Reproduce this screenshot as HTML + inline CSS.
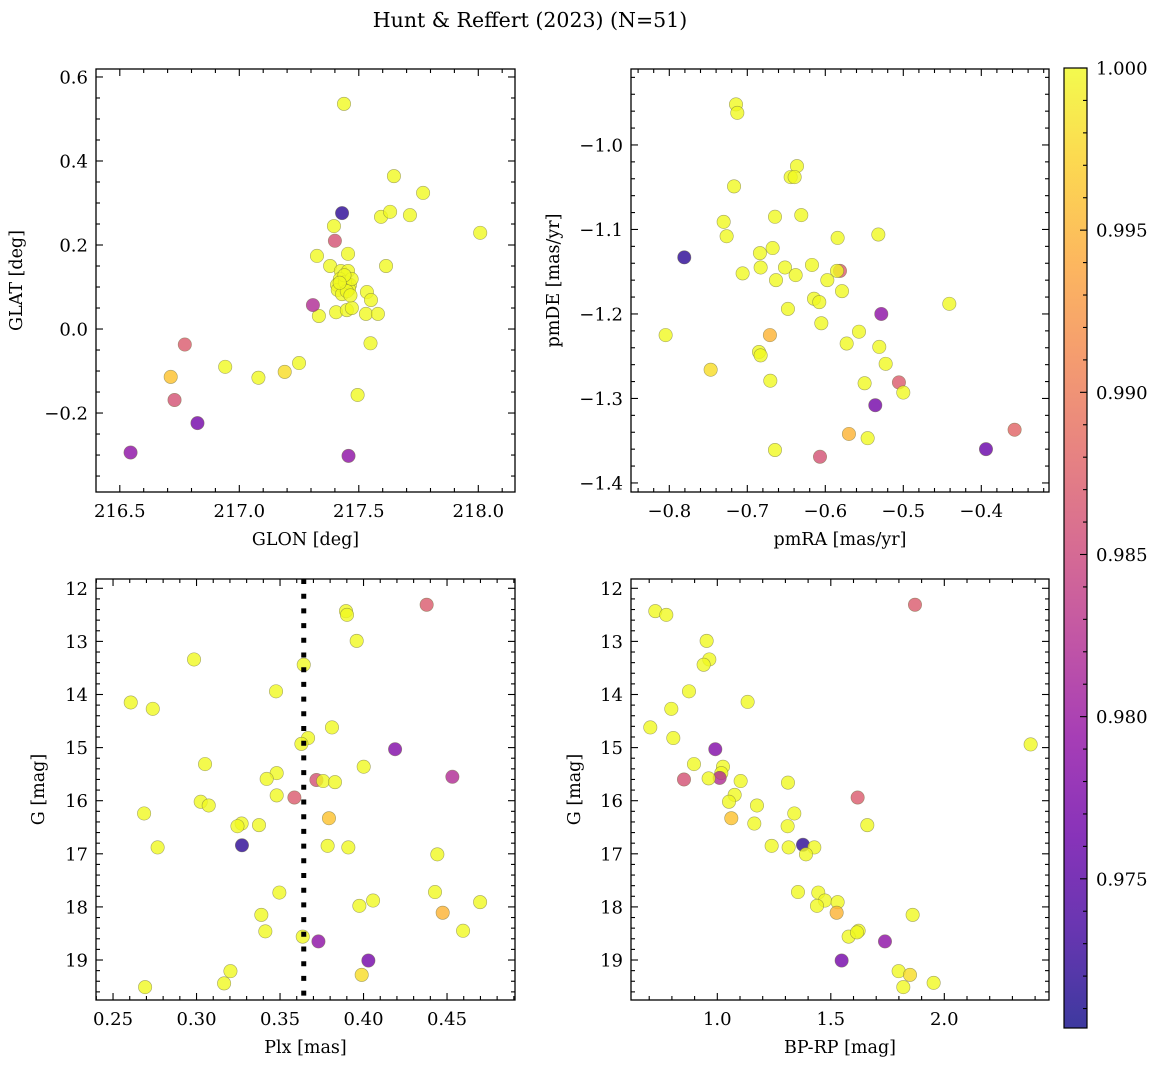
<!DOCTYPE html>
<html><head><meta charset="utf-8">
<style>
html,body{margin:0;padding:0;background:#fff;}
svg{display:block;font-family:"DejaVu Serif","Liberation Serif",serif;}
</style></head>
<body>
<svg id="fig" width="1161" height="1068" viewBox="0 0 1161 1068" xmlns="http://www.w3.org/2000/svg">
<rect width="1161" height="1068" fill="#fff"/>
<text x="530" y="27" font-size="20.5" text-anchor="middle">Hunt &amp; Reffert (2023) (N=51)</text>
<defs>
<linearGradient id="plasmaGrad" x1="0" y1="1" x2="0" y2="0">
<stop offset="0" stop-color="#0d0887"/><stop offset="0.1" stop-color="#41049d"/><stop offset="0.2" stop-color="#6a00a8"/><stop offset="0.3" stop-color="#8f0da4"/><stop offset="0.4" stop-color="#b12a90"/><stop offset="0.5" stop-color="#cc4778"/><stop offset="0.6" stop-color="#e16462"/><stop offset="0.7" stop-color="#f2844b"/><stop offset="0.8" stop-color="#fca636"/><stop offset="0.9" stop-color="#fcce25"/><stop offset="1" stop-color="#f0f921"/>
</linearGradient>
</defs>
<g id="colorbar">
<rect x="1064" y="68" width="23" height="960" fill="url(#plasmaGrad)" fill-opacity="0.8" stroke="#000" stroke-width="1.2"/>
</g>
</svg>
<script>
// ---- Panel 1: GLON / GLAT ----
const glon = [217.438,217.430,217.400,217.396,217.647,217.769,217.593,217.631,218.008,217.714,217.614,217.455,217.325,217.380,217.425,217.455,217.421,217.450,217.409,217.463,217.438,217.459,217.534,217.551,217.405,217.450,217.471,217.530,217.580,217.333,217.308,217.549,217.495,217.25,217.19,217.08,216.941,216.772,216.713,216.729,216.825,216.545,217.457,217.412,217.442,217.43,217.47,217.44,217.45,217.42,217.465];
const glat = [0.536,0.276,0.210,0.245,0.364,0.324,0.267,0.279,0.229,0.271,0.150,0.179,0.174,0.150,0.138,0.138,0.119,0.110,0.105,0.105,0.100,0.095,0.088,0.069,0.040,0.045,0.050,0.036,0.036,0.031,0.057,-0.034,-0.157,-0.081,-0.102,-0.116,-0.090,-0.037,-0.114,-0.169,-0.224,-0.294,-0.302,0.093,0.112,0.083,0.119,0.128,0.09,0.11,0.08];
const prob1 = [1,0.972,0.986,1,1,1,1,1,1,1,1,1,1,1,1,1,1,1,1,1,1,1,1,1,1,1,1,1,1,1,0.982,1,1,1,0.998,1,1,0.987,0.996,0.986,0.977,0.979,0.979,1,1,1,1,1,1,1,1];
// ---- Panel 2: pmRA / pmDE ----
const pmra = [-0.7145,-0.7128,-0.717,-0.6363,-0.6444,-0.6393,-0.6645,-0.6308,-0.7303,-0.7265,-0.5842,-0.532,-0.7808,-0.6838,-0.6675,-0.6829,-0.706,-0.6517,-0.6171,-0.638,-0.6632,-0.5812,-0.585,-0.5974,-0.5786,-0.6145,-0.6077,-0.6479,-0.441,-0.5282,-0.6051,-0.8047,-0.671,-0.5568,-0.5726,-0.5308,-0.685,-0.6829,-0.5226,-0.747,-0.6705,-0.5496,-0.5056,-0.5,-0.5359,-0.5697,-0.5457,-0.6645,-0.6068,-0.394,-0.3573];
const pmde = [-0.952,-0.962,-1.049,-1.025,-1.038,-1.038,-1.085,-1.083,-1.091,-1.108,-1.110,-1.106,-1.133,-1.128,-1.122,-1.145,-1.152,-1.145,-1.142,-1.154,-1.160,-1.149,-1.149,-1.160,-1.173,-1.182,-1.186,-1.194,-1.188,-1.200,-1.211,-1.225,-1.225,-1.221,-1.235,-1.239,-1.245,-1.249,-1.259,-1.266,-1.279,-1.282,-1.281,-1.293,-1.308,-1.342,-1.347,-1.361,-1.369,-1.360,-1.337];
const prob2 = [1,1,1,1,1,1,1,1,1,1,1,1,0.972,1,1,1,1,1,1,1,1,0.987,1,1,1,1,1,1,1,0.979,1,1,0.995,1,1,1,1,1,1,0.998,1,1,0.987,1,0.977,0.995,1,1,0.986,0.976,0.988];
// ---- Panel 3: Plx / G ----
const plx = [0.4378,0.3895,0.3901,0.3959,0.2985,0.3642,0.3476,0.2606,0.2738,0.3811,0.3668,0.3628,0.4189,0.3051,0.4001,0.348,0.342,0.3718,0.3758,0.3829,0.4532,0.348,0.3586,0.3025,0.3073,0.2686,0.3793,0.327,0.3245,0.3374,0.3272,0.2767,0.3785,0.3909,0.4442,0.3496,0.4428,0.4057,0.3975,0.4698,0.4474,0.3388,0.3412,0.4596,0.3636,0.373,0.4029,0.3203,0.3989,0.3165,0.2692];
const gmag3 = [12.31,12.43,12.50,12.99,13.34,13.44,13.94,14.15,14.27,14.62,14.82,14.93,15.03,15.31,15.36,15.48,15.59,15.61,15.63,15.65,15.55,15.90,15.94,16.02,16.09,16.24,16.33,16.43,16.48,16.46,16.84,16.88,16.85,16.88,17.01,17.73,17.72,17.88,17.98,17.91,18.11,18.15,18.46,18.45,18.56,18.65,19.01,19.21,19.28,19.44,19.51];
const prob3 = [0.987,1,1,1,1,1,1,1,1,1,1,1,0.978,1,1,1,1,0.986,1,1,0.982,1,0.987,1,1,1,0.996,1,1,1,0.972,1,1,1,1,1,1,1,1,1,0.995,1,1,1,1,0.979,0.977,1,0.998,1,1];
const plxMedian = [0.3642];
// ---- Panel 4: BP-RP / G ----
const bprp = [1.8708,0.7269,0.7753,0.953,0.9648,0.9398,0.8752,1.1336,0.7974,0.7048,0.8062,2.3803,0.9912,0.8972,1.025,1.0176,1.0103,0.9618,0.8532,1.1028,1.3113,1.0764,1.0514,1.6182,1.1747,1.0617,1.3392,1.163,1.3098,1.6608,1.2394,1.3142,1.3774,1.4273,1.3906,1.3554,1.4449,1.4743,1.4391,1.5301,1.5257,1.8605,1.6226,1.5786,1.7386,1.5477,1.7988,1.8488,1.953,1.8194,1.6153];
const gmag4 = [12.31,12.43,12.50,12.99,13.34,13.44,13.94,14.14,14.27,14.62,14.82,14.94,15.03,15.31,15.36,15.48,15.57,15.58,15.60,15.63,15.66,15.89,16.02,15.94,16.09,16.33,16.24,16.43,16.48,16.46,16.85,16.88,16.83,16.88,17.01,17.72,17.73,17.88,17.98,17.91,18.11,18.15,18.45,18.56,18.65,19.01,19.21,19.28,19.43,19.51,18.48];
const prob4 = [0.987,1,1,1,1,1,1,1,1,1,1,1,0.978,1,1,1,0.982,1,0.986,1,1,1,1,0.987,1,0.996,1,1,1,1,1,1,0.972,1,1,1,1,1,1,1,0.995,1,1,1,0.979,0.977,1,0.998,1,1,1];
// ---- Colorbar ----
const cbTicks = [0.975,0.980,0.985,0.990,0.995,1.000];
const cbMin = 0.9704, cbMax = 1.0;

const NS = "http://www.w3.org/2000/svg";
const svg = document.getElementById('fig');
function mk(tag, attrs, parent){
  const e = document.createElementNS(NS, tag);
  for (const k in attrs) e.setAttribute(k, attrs[k]);
  (parent||svg).appendChild(e);
  return e;
}
const stops = ["#0d0887","#41049d","#6a00a8","#8f0da4","#b12a90","#cc4778","#e16462","#f2844b","#fca636","#fcce25","#f0f921"];
function hex(h){return [parseInt(h.substr(1,2),16),parseInt(h.substr(3,2),16),parseInt(h.substr(5,2),16)];}
function plasma(v){
  let t = (v-cbMin)/(cbMax-cbMin); t=Math.max(0,Math.min(1,t));
  const f=t*10, i=Math.min(9,Math.floor(f)), r=f-i;
  const a=hex(stops[i]), b=hex(stops[i+1]);
  return 'rgb('+a.map((c,k)=>Math.round(c+(b[k]-c)*r)).join(',')+')';
}
function fmt(v,d){ const s=Math.abs(v).toFixed(d); return (v< -1e-9?'\u2212':'')+s; }

function panel(cfg){
  const {name,x0,y0,x1,y1,xmin,xmax,ymin,ymax,xt,yt,xminor,yminor,xd,yd,xlabel,ylabel,ylabx,xs,ys,ps} = cfg;
  const g = mk('g',{});
  
  
  const sx = v => x0 + (v-xmin)/(xmax-xmin)*(x1-x0);
  const sy = v => y1 - (v-ymin)/(ymax-ymin)*(y1-y0);
  const tk = mk('g',{stroke:'#000','stroke-width':1.1}, g);
  
  
  const lo=Math.min(xmin,xmax), hi=Math.max(xmin,xmax);
  for (let v=Math.ceil(lo/xminor)*xminor; v<=hi; v+=xminor){
    const X=sx(v); const major = xt.some(t=>Math.abs(t-v)<xminor/10); const L=major?7:4;
    mk('line',{x1:X,y1:y1,x2:X,y2:y1-L},tk); mk('line',{x1:X,y1:y0,x2:X,y2:y0+L},tk);
  }
  const ylo=Math.min(ymin,ymax), yhi=Math.max(ymin,ymax);
  for (let v=Math.ceil(ylo/yminor-1e-9)*yminor; v<=yhi; v+=yminor){
    const Y=sy(v); const major = yt.some(t=>Math.abs(t-v)<yminor/10); const L=major?7:4;
    mk('line',{x1:x0,y1:Y,x2:x0+L,y2:Y},tk); mk('line',{x1:x1,y1:Y,x2:x1-L,y2:Y},tk);
  }
  xt.forEach(v=>{
    const t=mk('text',{x:sx(v),y:y1+25,'font-size':18,'text-anchor':'middle'},g);
    
    
    t.textContent=fmt(v,xd);
  });
  yt.forEach(v=>{
    const t=mk('text',{x:x0-8,y:sy(v)+6.5,'font-size':18,'text-anchor':'end'},g);
    
    
    t.textContent=fmt(v,yd);
  });
  const xl=mk('text',{x:(x0+x1)/2,y:y1+53,'font-size':17.5,'text-anchor':'middle'},g);
  
  
  xl.textContent=xlabel;
  const yl=mk('text',{x:ylabx,y:(y0+y1)/2,'font-size':17.5,'text-anchor':'middle',transform:'rotate(-90 '+ylabx+' '+((y0+y1)/2)+')'},g);
  
  
  yl.textContent=ylabel;
  const pts = mk('g',{}, g);
  
  
  xs.forEach((v,i)=>{
    const c=mk('circle',{cx:sx(v),cy:sy(ys[i]),r:6.7,fill:plasma(ps[i]),'fill-opacity':0.8,stroke:'#6e6e40','stroke-opacity':0.6,'stroke-width':0.6},pts);
    
    
  });
  const fr=mk('rect',{x:x0,y:y0,width:x1-x0,height:y1-y0,fill:'none',stroke:'#000','stroke-width':1.3},g);
  
  
  return {g,sx,sy};
}

panel({name:'glon-glat-panel',x0:96,y0:69,x1:515,y1:492,xmin:216.4004,xmax:218.1536,ymin:-0.388,ymax:0.619,
  xt:[216.5,217.0,217.5,218.0],yt:[-0.2,0,0.2,0.4,0.6],xminor:0.1,yminor:0.05,xd:1,yd:1,
  xlabel:'GLON [deg]',ylabel:'GLAT [deg]',ylabx:22,xs:glon,ys:glat,ps:prob1});
panel({name:'pm-panel',x0:631,y0:69,x1:1049,y1:492,xmin:-0.8491,xmax:-0.3132,ymin:-1.4107,ymax:-0.9101,
  xt:[-0.8,-0.7,-0.6,-0.5,-0.4],yt:[-1.4,-1.3,-1.2,-1.1,-1.0],xminor:0.02,yminor:0.02,xd:1,yd:1,
  xlabel:'pmRA [mas/yr]',ylabel:'pmDE [mas/yr]',ylabx:559,xs:pmra,ys:pmde,ps:prob2});
const p3 = panel({name:'plx-g-panel',x0:96,y0:579,x1:515,y1:1000,xmin:0.2398,xmax:0.4907,ymin:19.753,ymax:11.825,
  xt:[0.25,0.30,0.35,0.40,0.45],yt:[12,13,14,15,16,17,18,19],xminor:0.01,yminor:0.2,xd:2,yd:0,
  xlabel:'Plx [mas]',ylabel:'G [mag]',ylabx:44,xs:plx,ys:gmag3,ps:prob3});
const ml = mk('line',{x1:p3.sx(plxMedian[0]),y1:579,x2:p3.sx(plxMedian[0]),y2:1000,stroke:'#000','stroke-width':5,'stroke-dasharray':'5 9.7'},p3.g);


panel({name:'cmd-panel',x0:631,y0:579,x1:1049,y1:1000,xmin:0.6198,xmax:2.4612,ymin:19.753,ymax:11.825,
  xt:[1.0,1.5,2.0],yt:[12,13,14,15,16,17,18,19],xminor:0.1,yminor:0.2,xd:1,yd:0,
  xlabel:'BP-RP [mag]',ylabel:'G [mag]',ylabx:580,xs:bprp,ys:gmag4,ps:prob4});

const cb = document.getElementById('colorbar');
const cy = v => 1028 - (v-cbMin)/(cbMax-cbMin)*960;
for (let k=971; k<=1000; k++){
  const v=k/1000; const Y=cy(v); const major = (k%5===0);
  mk('line',{x1:1087,y1:Y,x2:1087-(major?7:4),y2:Y,stroke:'#000','stroke-width':1.1},cb);
}
cbTicks.forEach(v=>{
  const t=mk('text',{x:1096,y:cy(v)+6.5,'font-size':18},cb);
  
  
  t.textContent=v.toFixed(3);
});
</script>
</body></html>
